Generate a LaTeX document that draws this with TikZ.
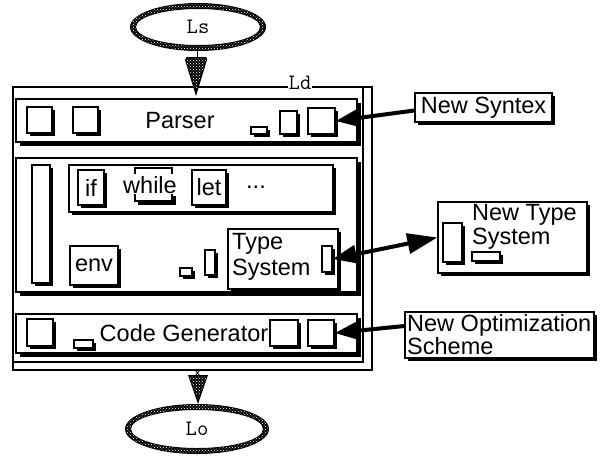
\documentclass[tikz,border=0pt]{standalone}
\usepackage{fontspec}
\setmainfont{Liberation Sans}
\usetikzlibrary{arrows.meta,patterns,shadows,shapes.geometric}

\tikzset{
  txt/.style={font=\fontsize{23.5}{24}\selectfont, inner sep=0pt},
  mono/.style={font=\ttfamily\fontsize{22}{24}\selectfont, inner sep=0pt},
  panel/.style={draw, line width=1.3pt, fill=white, inner sep=0pt,
    drop shadow={shadow xshift=4pt, shadow yshift=-4pt, fill=black, opacity=1}},
  sbox/.style={draw, line width=1.3pt, fill=white, inner sep=0pt,
    drop shadow={shadow xshift=3pt, shadow yshift=-3pt, fill=black, opacity=1}},
  wire/.style={line width=4pt},
  tip/.style={-{Triangle[length=24pt,width=18pt]}},
}

% checkered ring for the language ellipses
\newcommand{\chainring}[3]{%
  \fill[black, even odd rule] (#1) ellipse [x radius=#2, y radius=#3]
        (#1) ellipse [x radius=#2-6, y radius=#3-6];
  \fill[pattern=crosshatch dots, pattern color=white, even odd rule]
        (#1) ellipse [x radius=#2-1, y radius=#3-1]
        (#1) ellipse [x radius=#2-5, y radius=#3-5];
}

\begin{document}
\begin{tikzpicture}[x=1pt, y=-1pt]
\useasboundingbox (0,0) rectangle (601,455);
\fill[white] (0,0) rectangle (601,455);

% ---- source and target languages
\node[mono, ellipse, minimum width=136pt, minimum height=48pt] (ls) at (198,27) {Ls};
\chainring{198,27}{68}{24}
\node[mono, ellipse, minimum width=144pt, minimum height=50pt] (lo) at (197,429) {Lo};
\chainring{197,429}{72}{25}

% ---- outer frame of the compiler
\node[draw, line width=1.3pt, minimum width=359pt, minimum height=283pt, inner sep=0pt] (frame) at (192.5,228.5) {};
\draw[line width=1.3pt] (363,87) -- (363,362) -- (14,362);
\node[mono, fill=white, inner xsep=1pt, inner ysep=2pt, anchor=base] (ld) at (300,89) {Ld};

% ---- arrows in and out (checkered)
\coordinate (intip) at (196,96);
\coordinate (outtip) at (198,404);
\fill[black] (ls.south) ++(-1.5,0) rectangle (197.5,62);
\fill[black] (185,60) .. controls (186,57) .. (190,57) -- (203,57) .. controls (207,57) .. (207,60) -- (intip) -- cycle;
\fill[pattern=crosshatch dots, pattern color=white] (186,60) .. controls (187,58) .. (190,58) -- (203,58) .. controls (206,58) .. (206,60) -- (196,90) -- cycle;
\fill[black] (188,375) -- (208,375) -- (outtip) -- cycle;
\fill[pattern=crosshatch dots, pattern color=white] (189,376) -- (207,376) -- (198,399) -- cycle;
\draw[line width=0.8pt] (195,370) -- (200,376) (200,370) -- (195,376);

% ---- parser panel
\node[panel, minimum width=341pt, minimum height=43pt] (parser) at (186.5,120.5) {};
\node[sbox, minimum width=25pt, minimum height=26pt] (p1) at (39.5,120) {};
\node[sbox, minimum width=25pt, minimum height=26pt] (p2) at (85.5,120) {};
\node[txt] (parsertxt) at (180,121) {Parser};
\node[sbox, minimum width=16pt, minimum height=7pt] (p3) at (259,130.5) {};
\node[sbox, minimum width=17pt, minimum height=23pt] (p4) at (288.5,122.5) {};
\node[sbox, minimum width=27pt, minimum height=26pt] (p5) at (321.5,121) {};

% ---- semantic panel
\node[panel, minimum width=341pt, minimum height=134pt] (sem) at (186.5,225) {};
\node[sbox, minimum width=18pt, minimum height=118pt] (bar) at (41,224) {};
\node[sbox, minimum width=264pt, minimum height=47pt] (stmts) at (201,188.5) {};
\node[sbox, minimum width=26pt, minimum height=35pt, txt] (if) at (91,187.5) {if};
\node[txt] (while) at (150,185) {while};
\draw[line width=1.3pt] (135,174) -- (135,168) -- (172,168) -- (172,174)
                        (135,194) -- (135,201) -- (172,201) -- (172,194);
\draw[line width=3pt] (138,203) -- (174,203) -- (174,196);
\node[sbox, minimum width=34pt, minimum height=35pt, txt] (let) at (209,187.5) {let};
\node[txt] (more) at (256,187) {...};
\node[sbox, minimum width=48pt, minimum height=39pt, txt] (env) at (94,265.5) {env};
\node[sbox, minimum width=12pt, minimum height=8pt] (t1) at (186,272) {};
\node[sbox, minimum width=10pt, minimum height=25pt] (t2) at (210,262.5) {};
\node[sbox, minimum width=110pt, minimum height=60pt] (types) at (283,259) {};
\node[txt, align=left, anchor=west, font=\fontsize{23.5}{26}\selectfont] (typestxt) at (232,257) {Type\\System};
\node[sbox, minimum width=10pt, minimum height=26pt] (tsin) at (327,259) {};

% ---- code generator panel
\node[panel, minimum width=341pt, minimum height=39pt] (codegen) at (186.5,333.5) {};
\node[sbox, minimum width=26pt, minimum height=27pt] (c1) at (40,332.5) {};
\node[sbox, minimum width=19pt, minimum height=8pt] (c2) at (83.5,344) {};
\node[txt] (codegentxt) at (184,333) {Code Generator};
\node[sbox, minimum width=28pt, minimum height=26pt] (c3) at (284,333) {};
\node[sbox, minimum width=26pt, minimum height=26pt] (c4) at (321,333) {};

% ---- extensions
\node[sbox, minimum width=137pt, minimum height=29pt, txt] (newsyn) at (483.5,107.5) {New Syntex};
\node[sbox, minimum width=149pt, minimum height=71pt] (newtype) at (512.5,237.5) {};
\node[txt, align=left, anchor=west] (newtypetxt) at (472,227) {New Type\\System};
\node[sbox, minimum width=19pt, minimum height=39pt] (ntin) at (452.5,242.5) {};
\node[sbox, minimum width=28pt, minimum height=9pt] (ntsmall) at (486,256.5) {};
\node[sbox, minimum width=189pt, minimum height=46pt] (newopt) at (499.5,335) {};
\node[txt, align=left, anchor=west, font=\fontsize{23.5}{21}\selectfont] (newopttxt) at (407,335) {New Optimization\\Scheme};

% ---- connectors
\draw[wire, tip] ([yshift=-3pt]newsyn.west) -- (p5.east);
\draw[wire, {Triangle[length=24pt,width=18pt]}-{Triangle[length=30pt,width=20pt]}] (tsin.east) -- (newtype.west);
\draw[wire, tip] ([yshift=9pt]newopt.west) -- (c4.east);
\end{tikzpicture}
\end{document}
